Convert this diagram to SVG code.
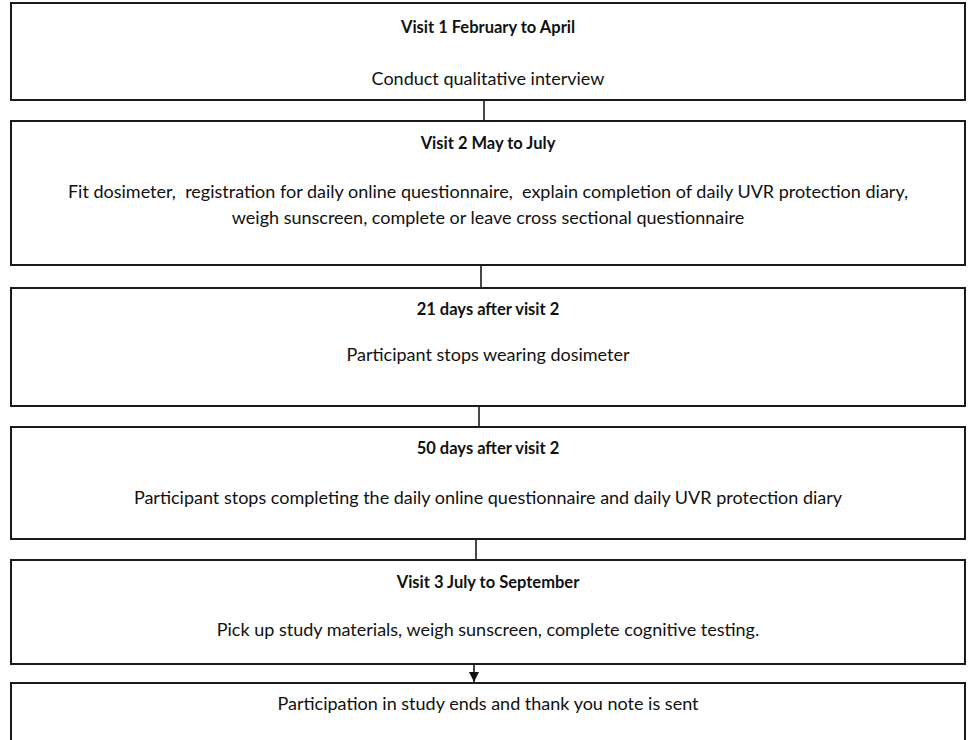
<svg xmlns="http://www.w3.org/2000/svg" width="976" height="740" viewBox="0 0 976 740">
<defs>
<marker id="arr" viewBox="0 0 10 10" refX="10" refY="5" markerWidth="10" markerHeight="10" markerUnits="userSpaceOnUse" orient="auto">
<path d="M0,0 L10,5 L0,10 z" fill="#111"/>
</marker>
</defs>
<style>
.box{fill:#fff;stroke:#1a1a1a;stroke-width:2}
.t{font-family:Lato,"Open Sans","Liberation Sans",sans-serif;font-size:18px;fill:#111;text-anchor:middle;white-space:pre}
.b{font-weight:bold;font-size:16.5px}
.c{stroke:#1a1a1a;stroke-width:1.6;fill:none}
</style>
<rect width="976" height="740" fill="#fff"/>
<g id="connectors">
<line class="c" x1="484" y1="101" x2="484" y2="121"/>
<line class="c" x1="481" y1="266" x2="481" y2="288"/>
<line class="c" x1="479" y1="407" x2="479" y2="427"/>
<line class="c" x1="476" y1="540" x2="476" y2="560"/>
<line class="c" x1="474" y1="665" x2="474" y2="682" marker-end="url(#arr)"/>
</g>
<g id="n1">
<rect class="box" x="11" y="3" width="954" height="97"/>
<text class="t b" x="488" y="33">Visit 1 February to April</text>
<text class="t" x="488" y="85">Conduct qualitative interview</text>
</g>
<g id="n2">
<rect class="box" x="11" y="121" width="954" height="144"/>
<text class="t b" x="488" y="149">Visit 2 May to July</text>
<text class="t" x="488" y="198">Fit dosimeter,  registration for daily online questionnaire,  explain completion of daily UVR protection diary,</text>
<text class="t" x="488" y="224">weigh sunscreen, complete or leave cross sectional questionnaire</text>
</g>
<g id="n3">
<rect class="box" x="11" y="288" width="954" height="118"/>
<text class="t b" x="488" y="315">21 days after visit 2</text>
<text class="t" x="488" y="361">Participant stops wearing dosimeter</text>
</g>
<g id="n4">
<rect class="box" x="11" y="427" width="954" height="112"/>
<text class="t b" x="488" y="454">50 days after visit 2</text>
<text class="t" x="488" y="504">Participant stops completing the daily online questionnaire and daily UVR protection diary</text>
</g>
<g id="n5">
<rect class="box" x="11" y="560" width="954" height="104"/>
<text class="t b" x="488" y="588">Visit 3 July to September</text>
<text class="t" x="488" y="636">Pick up study materials, weigh sunscreen, complete cognitive testing.</text>
</g>
<g id="n6">
<rect class="box" x="11" y="683" width="954" height="80"/>
<text class="t" x="488" y="710">Participation in study ends and thank you note is sent</text>
</g>
</svg>
